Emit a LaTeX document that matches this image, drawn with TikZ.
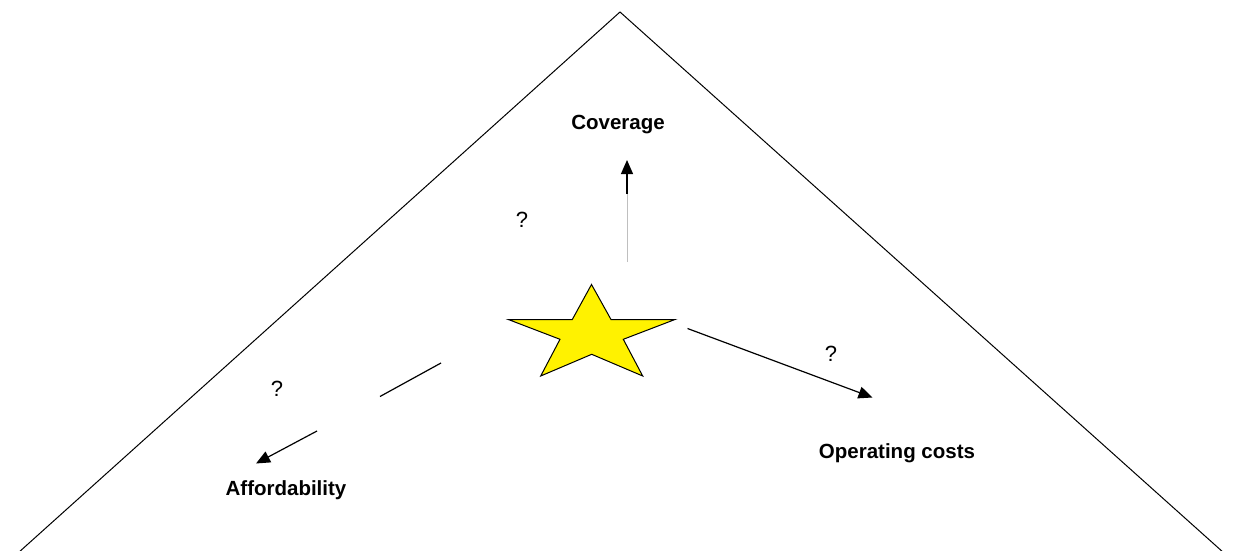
\documentclass[tikz,border=0pt]{standalone}
\usepackage{fontspec}
\setmainfont{Liberation Sans}
\usetikzlibrary{arrows.meta}
\begin{document}
\begin{tikzpicture}[x=1pt,y=-1pt,
  lbl/.style={font=\fontsize{20.5}{24}\selectfont\bfseries, inner sep=0pt},
  qm/.style={font=\fontsize{22}{24}\selectfont, inner sep=0pt},
  arr/.style={line width=1.2pt, -{Triangle[length=14pt,width=12pt]}},
  seg/.style={line width=1.2pt}]
\useasboundingbox (0,0) rectangle (1235,551);
% pyramid
\coordinate (apex) at (620,12);
\coordinate (bl) at (18,553);
\coordinate (br) at (1224,553);
\draw[line width=1pt] (bl) -- (apex) -- (br);
% star
\draw[fill=yellow, line width=1pt, line join=miter]
  (591.5,284.5) -- (611,319.5) -- (675,319.5) -- (623.3,339.3) -- (642.7,376)
  -- (591.7,354.3) -- (540.7,376) -- (560,339.3) -- (508.3,319.5) -- (572.3,319.5) -- cycle;
% labels
\node[lbl] (cov) at (618,125) {Coverage};
\node[lbl] (aff) at (286,490) {Affordability};
\node[lbl] (opc) at (897,453) {Operating costs};
\node[qm] (q1) at (522,219.5) {?};
\node[qm] (q2) at (277,388.5) {?};
\node[qm] (q3) at (831,353.5) {?};
% coverage arrow
\coordinate (c0) at (627,262);
\coordinate (c1) at (627,194);
\coordinate (c2) at (627,160);
\draw[gray!50, line width=0.8pt] (c0) -- (c1);
\draw[arr] (c1) -- (c2);
% affordability arrow (broken)
\coordinate (a0) at (441,363);
\coordinate (a1) at (380,396.5);
\coordinate (a2) at (317,431);
\coordinate (a3) at (256,463.5);
\draw[seg] (a0) -- (a1);
\draw[arr] (a2) -- (a3);
% operating costs arrow
\coordinate (o0) at (687.5,328.5);
\coordinate (o1) at (872.5,397.5);
\draw[arr] (o0) -- (o1);
\end{tikzpicture}
\end{document}
